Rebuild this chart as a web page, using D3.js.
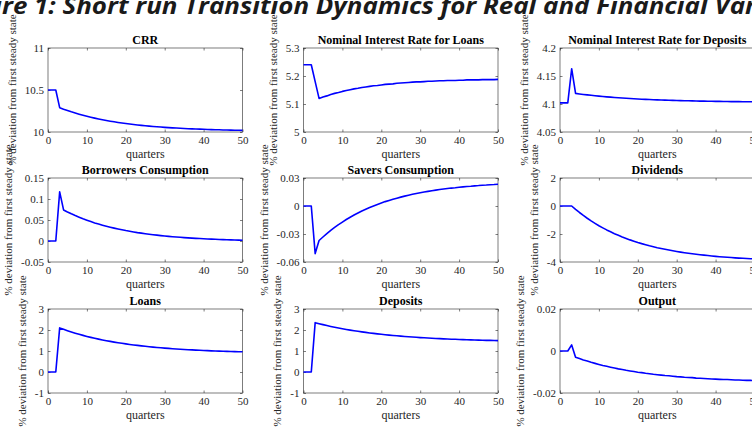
<!DOCTYPE html>
<html>
<head>
<meta charset="utf-8">
<script src="https://cdn.jsdelivr.net/npm/d3@7"></script>
<style>
  html, body { margin: 0; padding: 0; background: #fff; overflow: hidden; }
  #chart-container { width: 752px; height: 433px; }
</style>
</head>
<body>
<div id="chart-container"></div>
<script>
// data (t = 0..50)
const quarters = [0,1,2,3,4,5,6,7,8,9,10,11,12,13,14,15,16,17,18,19,20,21,22,23,24,25,26,27,28,29,30,31,32,33,34,35,36,37,38,39,40,41,42,43,44,45,46,47,48,49,50];
const xTicks = [0, 10, 20, 30, 40, 50];

const crr = [10.5,10.5,10.5,10.290,10.272,10.256,10.240,10.226,10.212,10.199,10.187,10.176,10.165,10.155,10.146,10.137,10.129,10.121,10.114,10.107,10.101,10.095,10.089,10.084,10.079,10.075,10.070,10.066,10.063,10.059,10.055,10.052,10.049,10.047,10.044,10.042,10.039,10.037,10.035,10.034,10.032,10.030,10.028,10.027,10.026,10.024,10.023,10.022,10.021,10.020,10.019];
const loanRate = [5.24,5.24,5.24,5.18,5.120,5.125,5.129,5.134,5.138,5.141,5.145,5.148,5.151,5.154,5.156,5.159,5.161,5.163,5.165,5.166,5.168,5.170,5.171,5.172,5.174,5.175,5.176,5.177,5.178,5.179,5.179,5.180,5.181,5.181,5.182,5.183,5.183,5.184,5.184,5.184,5.185,5.185,5.186,5.186,5.186,5.186,5.187,5.187,5.187,5.187,5.188];
const depositRate = [4.102,4.102,4.102,4.163,4.1190,4.1180,4.1171,4.1163,4.1155,4.1147,4.1140,4.1134,4.1128,4.1122,4.1116,4.1111,4.1106,4.1102,4.1097,4.1093,4.1090,4.1086,4.1083,4.1079,4.1076,4.1074,4.1071,4.1069,4.1066,4.1064,4.1062,4.1060,4.1058,4.1057,4.1055,4.1054,4.1052,4.1051,4.1050,4.1048,4.1047,4.1046,4.1045,4.1044,4.1043,4.1043,4.1042,4.1041,4.1041,4.1040,4.1039];
const borrowersC = [0,0,0,0.117,0.0740,0.0692,0.0647,0.0605,0.0566,0.0529,0.0495,0.0462,0.0431,0.0403,0.0377,0.0352,0.0328,0.0306,0.0286,0.0267,0.0248,0.0232,0.0216,0.0200,0.0187,0.0174,0.0162,0.0150,0.0140,0.0129,0.0120,0.0111,0.0103,0.0095,0.0088,0.0081,0.0075,0.0069,0.0063,0.0058,0.0053,0.0048,0.0044,0.0040,0.0036,0.0032,0.0029,0.0026,0.0023,0.0020,0.0018];
const saversC = [0,0,0,-0.051,-0.0370,-0.0332,-0.0296,-0.0262,-0.0230,-0.0200,-0.0172,-0.0145,-0.0120,-0.0097,-0.0075,-0.0054,-0.0035,-0.0016,0.0001,0.0017,0.0032,0.0047,0.0060,0.0072,0.0084,0.0095,0.0106,0.0116,0.0125,0.0134,0.0142,0.0150,0.0157,0.0164,0.0170,0.0176,0.0182,0.0187,0.0192,0.0196,0.0201,0.0205,0.0209,0.0212,0.0216,0.0219,0.0223,0.0225,0.0228,0.0230,0.0233];
const dividends = [0,0,0,0,-0.240,-0.464,-0.676,-0.876,-1.064,-1.240,-1.408,-1.560,-1.708,-1.844,-1.976,-2.096,-2.212,-2.316,-2.420,-2.512,-2.604,-2.688,-2.764,-2.840,-2.908,-2.976,-3.036,-3.092,-3.148,-3.200,-3.248,-3.292,-3.336,-3.376,-3.412,-3.448,-3.480,-3.512,-3.540,-3.568,-3.596,-3.620,-3.640,-3.664,-3.684,-3.704,-3.720,-3.736,-3.752,-3.768,-3.780];
const loans = [0,0,0,2.100,2.032,1.967,1.906,1.849,1.795,1.744,1.695,1.650,1.606,1.566,1.528,1.491,1.457,1.424,1.394,1.366,1.338,1.312,1.289,1.266,1.244,1.223,1.205,1.186,1.169,1.152,1.137,1.123,1.109,1.096,1.084,1.073,1.062,1.052,1.042,1.033,1.024,1.017,1.008,1.001,0.995,0.989,0.982,0.976,0.972,0.965,0.961];
const deposits = [0,0,0,2.350,2.302,2.256,2.212,2.171,2.132,2.095,2.060,2.026,1.995,1.965,1.937,1.910,1.885,1.861,1.838,1.816,1.795,1.775,1.757,1.740,1.723,1.707,1.692,1.678,1.665,1.652,1.639,1.628,1.617,1.607,1.598,1.588,1.579,1.571,1.563,1.556,1.548,1.542,1.535,1.530,1.524,1.519,1.513,1.508,1.504,1.499,1.495];
const output = [0,0,0,0.0029,-0.0030,-0.0036,-0.0043,-0.0048,-0.0054,-0.0059,-0.0064,-0.0069,-0.0073,-0.0077,-0.0081,-0.0085,-0.0088,-0.0092,-0.0095,-0.0098,-0.0101,-0.0103,-0.0106,-0.0108,-0.0111,-0.0113,-0.0115,-0.0117,-0.0118,-0.0120,-0.0122,-0.0123,-0.0125,-0.0126,-0.0127,-0.0129,-0.0130,-0.0131,-0.0132,-0.0133,-0.0134,-0.0135,-0.0136,-0.0136,-0.0137,-0.0138,-0.0138,-0.0139,-0.0140,-0.0140,-0.0141];

const titles = ["CRR", "Nominal Interest Rate for Loans", "Nominal Interest Rate for Deposits", "Borrowers Consumption", "Savers Consumption", "Dividends", "Loans", "Deposits", "Output"];
const series = [crr, loanRate, depositRate, borrowersC, saversC, dividends, loans, deposits, output];
const yDomains = [[10, 11], [5, 5.3], [4.05, 4.2], [-0.05, 0.15], [-0.06, 0.03], [-4, 2], [-1, 3], [-1, 3], [-0.02, 0.02]];
const yTicks = [
  [10, 10.5, 11],
  [5, 5.1, 5.2, 5.3],
  [4.05, 4.1, 4.15, 4.2],
  [-0.05, 0, 0.05, 0.1, 0.15],
  [-0.06, -0.03, 0, 0.03],
  [-4, -2, 0, 2],
  [-1, 0, 1, 2, 3],
  [-1, 0, 1, 2, 3],
  [-0.02, 0, 0.02],
];
const figureTitle = "Figure 1: Short run Transition Dynamics for Real and Financial Variables";
const yLabel = "% deviation from first steady state";

// layout
const colLeft = [48, 303.5, 560];
const rowTop = [48, 178, 309];
const panelW = 194.5;
const panelH = 84;
const serif = "'Liberation Serif', 'Times New Roman', serif";
const axisColor = "#262626";

const svg = d3
  .select("#chart-container")
  .append("svg")
  .attr("width", 752)
  .attr("height", 433);

renderFigureTitle();
series.forEach((d, i) => renderPanel(i));

function renderFigureTitle() {
  const t = svg
    .append("text")
    .attr("y", 14)
    .attr("font-family", "'Open Sans', sans-serif")
    .attr("font-weight", "bold")
    .attr("font-style", "italic")
    .attr("font-size", 23)
    .attr("fill", "#1a1a1a")
    .text(figureTitle);

  // the figure is cropped: only "re 1: ... Var" is in view
  const node = t.node();
  const fullW = node.getComputedTextLength();
  const start = 4;
  const end = figureTitle.indexOf("Variables") + 3;
  const prefixW = node.getSubStringLength(0, start);
  const visibleW = node.getSubStringLength(start, end - start);
  const s = 754 / visibleW;
  t.attr("x", 2 - prefixW * s)
    .attr("textLength", fullW * s)
    .attr("lengthAdjust", "spacingAndGlyphs");
}

function renderPanel(i) {
  const left = colLeft[i % 3];
  const top = rowTop[Math.floor(i / 3)];
  const g = svg.append("g").attr("transform", `translate(${left}, ${top})`);

  const x = d3.scaleLinear().domain([0, 50]).range([0, panelW]);
  const y = d3.scaleLinear().domain(yDomains[i]).range([panelH, 0]);

  // box
  g.append("rect")
    .attr("width", panelW)
    .attr("height", panelH)
    .attr("fill", "none")
    .attr("stroke", axisColor)
    .attr("stroke-width", 0.6);

  // axes with inward ticks, mirrored on top / right
  const xb = g
    .append("g")
    .attr("transform", `translate(0, ${panelH})`)
    .call(d3.axisBottom(x).tickValues(xTicks).tickSizeInner(-2.5).tickSizeOuter(0).tickPadding(4));
  g.append("g").call(d3.axisTop(x).tickValues(xTicks).tickSizeInner(-2.5).tickSizeOuter(0).tickFormat(""));
  const yl = g
    .append("g")
    .call(d3.axisLeft(y).tickValues(yTicks[i]).tickSizeInner(-2.5).tickSizeOuter(0).tickPadding(4).tickFormat((d) => String(d)));
  g.append("g")
    .attr("transform", `translate(${panelW}, 0)`)
    .call(d3.axisRight(y).tickValues(yTicks[i]).tickSizeInner(-2.5).tickSizeOuter(0).tickFormat(""));

  g.selectAll(".domain").remove();
  g.selectAll(".tick line").attr("stroke", axisColor).attr("stroke-width", 0.6);
  g.selectAll(".tick text")
    .attr("font-family", serif)
    .attr("font-size", 11)
    .attr("fill", axisColor);

  // line
  const line = d3
    .line()
    .x((d, k) => x(quarters[k]))
    .y((d) => y(d));
  g.append("path")
    .datum(series[i])
    .attr("d", line)
    .attr("fill", "none")
    .attr("stroke", "#0000ff")
    .attr("stroke-width", 1.6)
    .attr("stroke-linejoin", "round");

  // title
  g.append("text")
    .attr("x", panelW / 2)
    .attr("y", -4)
    .attr("text-anchor", "middle")
    .attr("font-family", serif)
    .attr("font-weight", "bold")
    .attr("font-size", 12)
    .attr("fill", "#000")
    .text(titles[i]);

  // x label
  g.append("text")
    .attr("x", panelW / 2)
    .attr("y", panelH + 26)
    .attr("text-anchor", "middle")
    .attr("font-family", serif)
    .attr("font-size", 12)
    .attr("fill", axisColor)
    .text("quarters");

  // y label, placed left of the widest tick label
  let maxW = 0;
  yl.selectAll(".tick text").each(function () {
    maxW = Math.max(maxW, this.getComputedTextLength());
  });
  g.append("text")
    .attr("transform", `translate(${-4 - maxW - 9}, ${panelH / 2}) rotate(-90)`)
    .attr("text-anchor", "middle")
    .attr("font-family", serif)
    .attr("font-size", 11)
    .attr("fill", axisColor)
    .text(yLabel);
}
</script>
</body>
</html>
